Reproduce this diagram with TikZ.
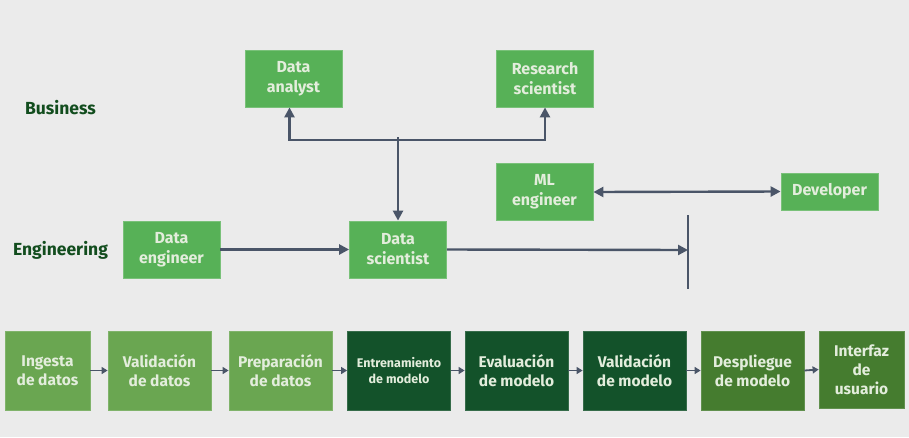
\documentclass[tikz,border=0pt]{standalone}
\usepackage{fontspec}
\setmainfont{Fira Sans}
\usetikzlibrary{arrows.meta}
\definecolor{bg}{HTML}{EBEBEB}
\definecolor{topg}{HTML}{57B157}
\definecolor{lightg}{HTML}{6AA651}
\definecolor{darkg}{HTML}{13522A}
\definecolor{midg}{HTML}{457C2F}
\definecolor{arr}{HTML}{4A5568}
\definecolor{lab}{HTML}{124D1E}
\definecolor{txt}{HTML}{E3EDDC}
\tikzset{
  rolebox/.style={fill=topg, draw=topg!80!white, line width=0.8pt, minimum width=97pt, minimum height=57pt, inner sep=0pt,
    text=txt, font=\bfseries\fontsize{16}{20}\selectfont, align=center},
  stagebox/.style={draw=#1!85!white, fill=#1, line width=0.8pt, minimum width=103pt, minimum height=79pt, inner sep=0pt,
    text=txt, font=\bfseries\fontsize{15.5}{19}\selectfont, align=center},
  grouplabel/.style={text=lab, font=\bfseries\fontsize{17.5}{20}\selectfont},
  conn/.style={draw=arr, line width=2.4pt, -{Triangle[length=10pt,width=10pt]}},
  conn2/.style={draw=arr, line width=2.4pt, {Triangle[length=10pt,width=10pt]}-{Triangle[length=10pt,width=10pt]}},
  small/.style={draw=arr, line width=1.8pt, -{Triangle[length=6pt,width=7pt]}},
}
\begin{document}
\begin{tikzpicture}[x=1pt,y=-1pt]
\fill[bg] (0,0) rectangle (909,437);
\useasboundingbox (0,0) rectangle (909,437);

\node[grouplabel] (bus) at (60.5,108) {Business};
\node[grouplabel] (eng) at (60.5,250) {Engineering};

\node[rolebox] (da) at (293.5,78.5) {Data\\analyst};
\node[rolebox] (rs) at (545,78.5) {Research\\scientist};
\node[rolebox] (ml) at (544.5,192) {ML\\engineer};
\node[rolebox, minimum height=37pt] (dev) at (829.5,191.5) {Developer};
\node[rolebox] (de) at (171.5,249.5) {Data\\engineer};
\node[rolebox] (ds) at (398,249.5) {Data\\scientist};

\coordinate (j) at (398,140);
\coordinate (jt) at (398,137);
\coordinate (bt) at (688,215);
\coordinate (bb) at (688,289);
\coordinate (bm) at (688,250);

\draw[draw=arr, line width=2pt] (bt) -- (bb);
\draw[conn] (j) -| ([xshift=-4pt]da.south);
\draw[conn] (j) -| (rs.south);
\draw[conn] (jt) -- (ds.north);
\draw[conn] (de) -- (ds);
\draw[conn] (ds.east) -- (bm);
\draw[conn2] (ml.east) -- (dev.west);

\node[stagebox=lightg, minimum width=85pt] (s1) at (47.5,370.5) {Ingesta\\de datos};
\node[stagebox=lightg] (s2) at (159.5,370.5) {Validación\\de datos};
\node[stagebox=lightg] (s3) at (280.5,370.5) {Preparación\\de datos};
\node[stagebox=darkg, font=\bfseries\fontsize{12.5}{16}\selectfont] (s4) at (399,370.5) {Entrenamiento\\de modelo};
\node[stagebox=darkg] (s5) at (516.5,370.5) {Evaluación\\de modelo};
\node[stagebox=darkg] (s6) at (634.5,370.5) {Validación\\de modelo};
\node[stagebox=midg] (s7) at (752.5,370.5) {Despliegue\\de modelo};
\node[stagebox=midg, minimum width=85pt, minimum height=77pt] (s8) at (861.5,369.5) {Interfaz\\de\\usuario};

\foreach \a/\b in {s1/s2,s2/s3,s3/s4,s4/s5,s5/s6,s6/s7,s7/s8}
  \draw[small] (\a.east) -- (\b.west);
\end{tikzpicture}
\end{document}
